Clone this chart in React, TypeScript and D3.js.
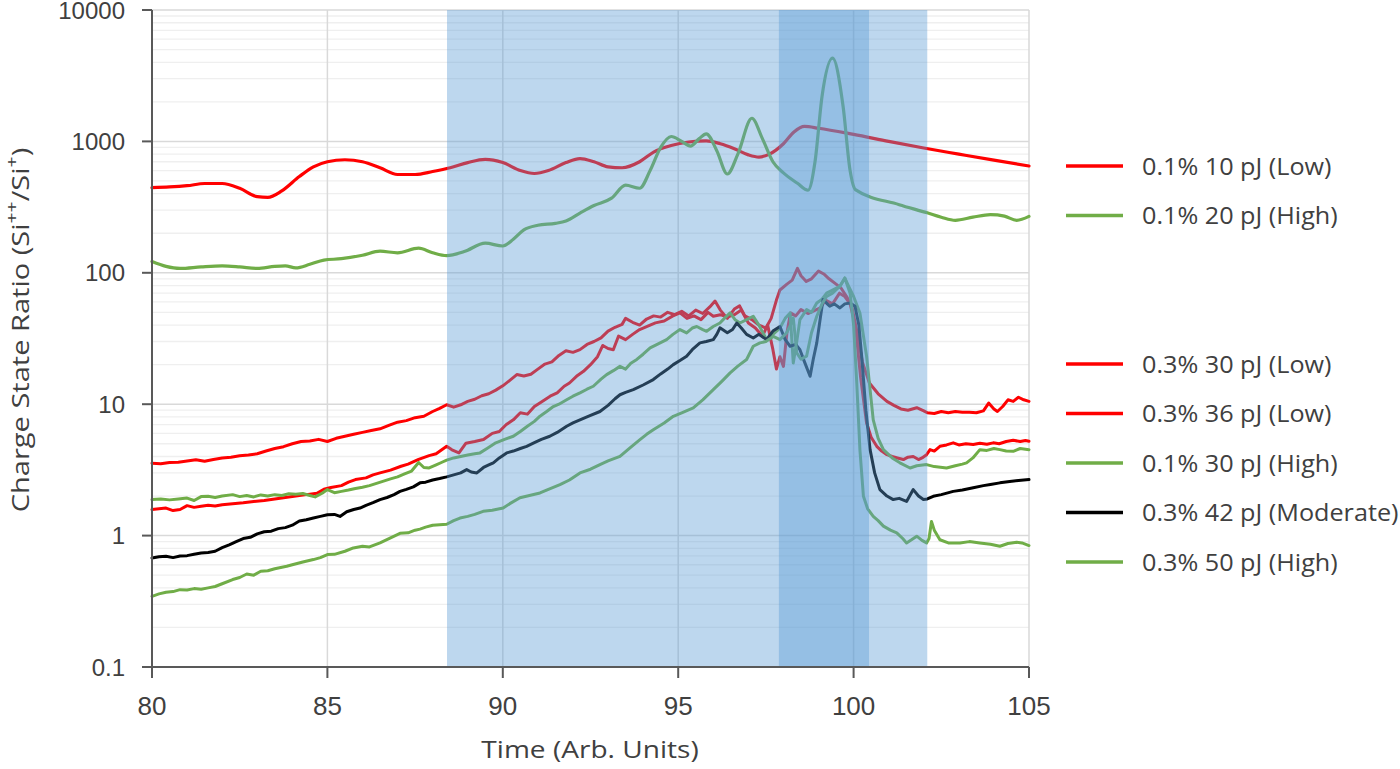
import React from "react";
import * as d3 from "d3";

// ---- data ----
const xTicks = [80, 85, 90, 95, 100, 105];
const yTicks = [0.1, 1, 10, 100, 1000, 10000];
const yTickLabels = ["0.1", "1", "10", "100", "1000", "10000"];

// shaded time windows [start, end]
const shadeBands: [number, number][] = [
  [88.41, 102.1],
  [97.87, 100.44],
];

// 0.1% 10 pJ (Low)
const s10Low: [number, number][] = [
  [80, 445], [80.5, 450], [81, 460], [81.5, 478], [82, 478], [82.5, 440], [83, 380], [83.3, 375],
  [83.7, 420], [84.2, 540], [84.6, 640], [85, 700], [85.5, 725], [86, 700], [86.5, 630], [87, 560],
  [87.5, 560], [88, 590], [88.5, 630], [89, 690], [89.5, 730], [90, 690], [90.5, 600], [90.9, 570],
  [91.3, 600], [91.8, 690], [92.2, 740], [92.6, 700], [93, 640], [93.4, 630], [93.9, 700], [94.3, 830],
  [94.8, 930], [95.3, 990], [95.8, 1010], [96.2, 960], [96.6, 880], [97, 790], [97.3, 760], [97.6, 800],
  [98, 960], [98.3, 1180], [98.6, 1300], [99, 1260], [100, 1130], [101, 1000], [102, 890], [103, 800],
  [104, 720], [105, 650],
];

// 0.1% 20 pJ (High)
const s20High: [number, number][] = [
  [80, 122], [80.4, 112], [80.8, 108], [81.4, 111], [82, 113], [82.5, 111], [83, 108], [83.5, 112],
  [83.8, 113], [84.1, 109], [84.5, 116], [84.9, 125], [85.4, 128], [86, 136], [86.5, 146], [87, 142],
  [87.6, 154], [88, 142], [88.4, 135], [88.9, 145], [89.5, 168], [90, 160], [90.3, 180], [90.6, 212],
  [91, 230], [91.5, 238], [91.8, 248], [92.2, 285], [92.6, 325], [93.1, 370], [93.5, 465], [93.9, 440],
  [94.2, 600], [94.5, 900], [94.8, 1090], [95.1, 1000], [95.35, 920], [95.6, 1050], [95.8, 1140],
  [96.1, 850], [96.4, 565], [96.7, 800], [97.1, 1500], [97.4, 1050], [97.7, 700], [98, 576], [98.4, 480],
  [98.7, 425], [98.9, 700], [99.1, 2200], [99.4, 4300], [99.7, 1850], [99.9, 600], [100.05, 430],
  [101.3, 330], [102.1, 286], [102.5, 265], [102.9, 251], [103.4, 265], [103.9, 277], [104.3, 270],
  [104.65, 251], [105, 269],
];

// 0.3% 30 pJ (Low)
const s30Low: [number, number][] = [
  [80, 3.55], [80.25, 3.52], [80.5, 3.6], [80.75, 3.62], [81, 3.7], [81.25, 3.78], [81.5, 3.68],
  [81.75, 3.8], [82, 3.9], [82.25, 3.95], [82.5, 4.05], [82.75, 4.1], [83, 4.2], [83.25, 4.4],
  [83.5, 4.6], [83.75, 4.75], [84, 5.0], [84.25, 5.2], [84.5, 5.25], [84.75, 5.4], [85, 5.2],
  [85.25, 5.5], [85.5, 5.7], [85.75, 5.9], [86, 6.1], [86.25, 6.3], [86.5, 6.5], [86.75, 6.9],
  [87, 7.3], [87.25, 7.5], [87.5, 7.9], [87.75, 8.1], [88, 8.8], [88.2, 9.3], [88.4, 9.9], [88.6, 9.5],
  [88.8, 9.9], [89, 10.5], [89.2, 10.9], [89.4, 11.6], [89.6, 12.0], [89.8, 12.8], [90, 13.8],
  [90.2, 15.2], [90.4, 16.8], [90.6, 16.4], [90.8, 16.9], [91, 18.5], [91.2, 20.2], [91.4, 21.0],
  [91.6, 23.5], [91.8, 25.5], [92, 24.8], [92.2, 26.0], [92.4, 28.5], [92.6, 30.0], [92.8, 32.0],
  [93, 36.0], [93.2, 38.5], [93.4, 40.5], [93.5, 45.0], [93.7, 42.0], [93.9, 40.0], [94.1, 44.5],
  [94.3, 47.0], [94.5, 46.0], [94.7, 50.0], [94.9, 48.0], [95.1, 51.0], [95.3, 47.0], [95.5, 52.0],
  [95.7, 49.0], [95.9, 55.0], [96.05, 61.0], [96.2, 52.0], [96.4, 45.0], [96.6, 53.0], [96.75, 56.0],
  [96.9, 47.0], [97.1, 44.0], [97.3, 40.0], [97.5, 38.0], [97.65, 45.0], [97.8, 62.0], [97.9, 74.0],
  [98.1, 82.0], [98.25, 88.0], [98.4, 108.0], [98.5, 95.0], [98.65, 86.0], [98.8, 90.0], [99, 103.0],
  [99.15, 98.0], [99.3, 90.0], [99.5, 82.0], [99.65, 76.0], [99.8, 66.0], [99.95, 55.0], [100.1, 35.0],
  [100.25, 21.0], [100.45, 14.5], [100.7, 12.0], [100.95, 10.5], [101.15, 9.8], [101.35, 9.2],
  [101.55, 9.0], [101.8, 9.4], [102, 8.9], [102.1, 8.6], [102.3, 8.5], [102.5, 8.8], [102.7, 8.6],
  [102.9, 8.8], [103.1, 8.7], [103.3, 8.7], [103.5, 8.6], [103.7, 8.9], [103.85, 10.2], [104, 9.2],
  [104.1, 8.8], [104.25, 9.6], [104.4, 10.8], [104.55, 10.5], [104.7, 11.3], [104.85, 10.8], [105, 10.5],
];

// 0.3% 36 pJ (Low)
const s36Low: [number, number][] = [
  [80, 1.58], [80.2, 1.6], [80.4, 1.62], [80.6, 1.55], [80.8, 1.58], [81, 1.69], [81.2, 1.64],
  [81.4, 1.67], [81.6, 1.7], [81.8, 1.68], [82, 1.72], [82.3, 1.75], [82.6, 1.78], [82.9, 1.82],
  [83.2, 1.85], [83.5, 1.9], [83.8, 1.95], [84.1, 2.0], [84.4, 2.05], [84.7, 2.1], [84.9, 2.25],
  [85.1, 2.32], [85.4, 2.4], [85.6, 2.55], [85.8, 2.67], [86.1, 2.75], [86.3, 2.9], [86.5, 3.0],
  [86.8, 3.15], [87.1, 3.37], [87.3, 3.5], [87.6, 3.8], [87.9, 4.06], [88.1, 4.2], [88.4, 4.78],
  [88.55, 4.5], [88.75, 4.26], [88.95, 5.05], [89.2, 5.2], [89.45, 5.38], [89.7, 6.0], [89.9, 6.2],
  [90.1, 7.0], [90.3, 7.6], [90.5, 8.6], [90.7, 8.4], [90.9, 9.6], [91.1, 10.4], [91.35, 11.5],
  [91.55, 12.2], [91.75, 13.7], [91.9, 14.5], [92.1, 16.3], [92.3, 17.8], [92.5, 20.0], [92.7, 23.0],
  [92.85, 28.0], [93, 26.5], [93.15, 26.0], [93.3, 33.0], [93.5, 31.0], [93.7, 34.0], [93.9, 37.0],
  [94.1, 39.0], [94.35, 41.6], [94.6, 43.0], [94.85, 47.0], [95.05, 49.5], [95.25, 45.0], [95.45, 47.0],
  [95.65, 44.0], [95.85, 50.0], [96, 46.7], [96.2, 48.0], [96.4, 46.0], [96.6, 48.0], [96.8, 52.0],
  [97, 41.5], [97.2, 38.0], [97.4, 33.0], [97.55, 40.0], [97.7, 26.0], [97.8, 18.5], [97.9, 23.0],
  [98, 19.4], [98.1, 35.0], [98.2, 49.5], [98.35, 47.0], [98.5, 52.5], [98.7, 49.0], [98.85, 51.0],
  [99.05, 54.0], [99.2, 62.0], [99.4, 58.0], [99.6, 70.0], [99.75, 66.0], [99.9, 58.0], [100.05, 40.0],
  [100.2, 16.0], [100.37, 7.2], [100.5, 5.6], [100.66, 4.78], [100.8, 4.4], [100.95, 4.13], [101.1, 4.0],
  [101.25, 3.9], [101.42, 3.79], [101.55, 3.95], [101.7, 4.0], [101.85, 3.79], [101.95, 3.9],
  [102.08, 4.13], [102.18, 4.51], [102.3, 4.4], [102.46, 4.78], [102.65, 4.9], [102.84, 5.08],
  [103, 4.9], [103.2, 5.0], [103.41, 4.93], [103.6, 5.05], [103.8, 4.95], [103.98, 5.08], [104.15, 5.0],
  [104.35, 5.2], [104.55, 5.31], [104.75, 5.2], [104.9, 5.3], [105, 5.23],
];

// 0.1% 30 pJ (High)
const s30High: [number, number][] = [
  [80, 1.88], [80.25, 1.9], [80.5, 1.87], [80.75, 1.9], [81, 1.93], [81.2, 1.85], [81.4, 1.98],
  [81.6, 1.99], [81.8, 1.95], [82, 2.0], [82.3, 2.05], [82.5, 1.98], [82.7, 2.02], [82.9, 1.97],
  [83.1, 2.04], [83.3, 2.0], [83.5, 2.05], [83.7, 2.02], [83.9, 2.08], [84.1, 2.06], [84.3, 2.09],
  [84.5, 2.02], [84.65, 1.97], [84.85, 2.1], [85, 2.24], [85.2, 2.12], [85.4, 2.17], [85.6, 2.22],
  [85.8, 2.28], [86, 2.33], [86.2, 2.4], [86.4, 2.5], [86.6, 2.6], [86.8, 2.7], [87, 2.8], [87.2, 2.95],
  [87.4, 3.1], [87.6, 3.6], [87.75, 3.3], [87.9, 3.27], [88.1, 3.45], [88.25, 3.6], [88.4, 3.75],
  [88.6, 3.9], [88.8, 4.0], [89, 4.1], [89.2, 4.2], [89.35, 4.26], [89.55, 4.6], [89.8, 5.08],
  [90.05, 5.4], [90.3, 5.7], [90.5, 6.2], [90.7, 6.8], [90.9, 7.4], [91.06, 8.1], [91.25, 8.8],
  [91.44, 9.6], [91.6, 10.0], [91.82, 10.8], [92, 11.5], [92.2, 12.2], [92.4, 13.0], [92.58, 13.7],
  [92.8, 15.5], [92.96, 16.8], [93.15, 18.0], [93.34, 19.4], [93.5, 18.5], [93.65, 20.5], [93.82, 21.9],
  [94, 24.0], [94.2, 26.8], [94.4, 28.5], [94.67, 31.0], [94.85, 34.0], [95.05, 37.0], [95.24, 34.9],
  [95.4, 38.0], [95.53, 39.0], [95.7, 37.0], [95.81, 35.9], [96, 39.0], [96.19, 41.5], [96.35, 46.0],
  [96.48, 49.5], [96.62, 44.0], [96.76, 41.5], [96.95, 44.0], [97.14, 46.7], [97.3, 40.0], [97.52, 31.0],
  [97.7, 34.0], [97.9, 38.0], [98.05, 45.0], [98.19, 49.5], [98.28, 20.6], [98.38, 30.0], [98.47, 44.0],
  [98.66, 52.5], [98.8, 50.0], [98.95, 59.0], [99.1, 63.0], [99.23, 70.0], [99.4, 74.0], [99.61, 79.0],
  [99.75, 91.0], [99.85, 80.0], [100, 66.0], [100.18, 49.5], [100.37, 23.2], [100.56, 7.6], [100.7, 5.5],
  [100.85, 4.51], [101.1, 3.9], [101.32, 3.58], [101.61, 3.27], [101.8, 3.4], [102.08, 3.47],
  [102.3, 3.35], [102.65, 3.27], [102.9, 3.4], [103.1, 3.5], [103.22, 3.58], [103.4, 3.9], [103.6, 4.51],
  [103.8, 4.45], [104, 4.6], [104.17, 4.51], [104.35, 4.4], [104.55, 4.38], [104.75, 4.6], [105, 4.51],
];

// 0.3% 42 pJ (Moderate)
const s42Mod: [number, number][] = [
  [80, 0.676], [80.2, 0.69], [80.4, 0.696], [80.6, 0.68], [80.8, 0.7], [81, 0.704], [81.2, 0.72],
  [81.4, 0.738], [81.6, 0.745], [81.8, 0.76], [82, 0.81], [82.2, 0.85], [82.4, 0.9], [82.6, 0.95],
  [82.8, 0.97], [83, 1.03], [83.2, 1.07], [83.4, 1.08], [83.6, 1.13], [83.8, 1.15], [84, 1.2],
  [84.2, 1.29], [84.4, 1.32], [84.6, 1.36], [84.8, 1.4], [85, 1.44], [85.2, 1.45], [85.36, 1.4],
  [85.55, 1.52], [85.75, 1.58], [85.93, 1.62], [86.1, 1.7], [86.3, 1.78], [86.5, 1.88], [86.7, 1.95],
  [86.9, 2.05], [87.07, 2.17], [87.25, 2.25], [87.45, 2.35], [87.64, 2.52], [87.8, 2.55], [88, 2.65],
  [88.2, 2.72], [88.4, 2.8], [88.6, 2.9], [88.8, 3.0], [88.97, 3.18], [89.1, 3.05], [89.26, 3.0],
  [89.45, 3.3], [89.6, 3.45], [89.73, 3.58], [89.9, 3.9], [90.11, 4.26], [90.3, 4.4], [90.5, 4.6],
  [90.68, 4.78], [90.9, 5.1], [91.1, 5.4], [91.34, 5.7], [91.55, 6.1], [91.82, 6.8], [92, 7.2],
  [92.2, 7.6], [92.45, 8.1], [92.77, 8.8], [93, 9.8], [93.2, 11.0], [93.34, 11.8], [93.5, 12.3],
  [93.72, 12.9], [94, 14.0], [94.29, 15.4], [94.5, 17.0], [94.7, 18.5], [94.86, 20.0], [95.05, 21.5],
  [95.24, 23.2], [95.4, 26.0], [95.62, 29.3], [95.8, 30.0], [96, 31.0], [96.1, 34.0], [96.19, 38.1],
  [96.4, 35.0], [96.55, 37.0], [96.67, 41.5], [96.8, 38.0], [96.95, 34.0], [97.14, 31.9], [97.3, 34.0],
  [97.52, 31.0], [97.7, 36.0], [97.9, 39.0], [98.05, 31.0], [98.19, 27.6], [98.35, 28.5], [98.47, 26.0],
  [98.6, 21.0], [98.76, 16.3], [98.85, 22.0], [98.95, 29.3], [99.05, 45.0], [99.13, 62.6], [99.25, 58.0],
  [99.32, 55.6], [99.45, 58.0], [99.61, 54.0], [99.75, 58.0], [99.9, 59.0], [100.04, 55.6], [100.15, 40.0],
  [100.23, 23.2], [100.35, 9.0], [100.47, 4.51], [100.6, 3.0], [100.75, 2.24], [100.95, 2.0],
  [101.13, 1.88], [101.3, 1.92], [101.51, 1.82], [101.7, 2.24], [101.85, 2.0], [101.99, 1.88],
  [102.1, 1.9], [102.27, 1.99], [102.5, 2.05], [102.84, 2.17], [103.1, 2.22], [103.41, 2.31],
  [103.7, 2.4], [103.9, 2.45], [104.17, 2.52], [104.45, 2.58], [104.7, 2.63], [105, 2.67],
];

// 0.3% 50 pJ (High)
const s50High: [number, number][] = [
  [80, 0.345], [80.2, 0.36], [80.4, 0.37], [80.6, 0.375], [80.8, 0.388], [81, 0.385], [81.2, 0.395],
  [81.4, 0.39], [81.6, 0.4], [81.8, 0.41], [82, 0.43], [82.3, 0.463], [82.5, 0.48], [82.7, 0.51],
  [82.9, 0.5], [83.1, 0.535], [83.3, 0.54], [83.5, 0.56], [83.84, 0.584], [84, 0.6], [84.3, 0.63],
  [84.6, 0.657], [84.8, 0.68], [85, 0.717], [85.2, 0.72], [85.5, 0.76], [85.74, 0.806], [86, 0.83],
  [86.2, 0.82], [86.5, 0.88], [86.8, 0.96], [87.07, 1.04], [87.3, 1.05], [87.5, 1.1], [87.64, 1.12],
  [87.8, 1.16], [88, 1.2], [88.2, 1.21], [88.4, 1.22], [88.6, 1.3], [88.78, 1.36], [89, 1.4],
  [89.2, 1.45], [89.44, 1.53], [89.7, 1.56], [90.01, 1.62], [90.2, 1.75], [90.49, 1.94], [90.7, 2.0],
  [91.06, 2.11], [91.3, 2.25], [91.63, 2.44], [91.9, 2.65], [92.2, 3.0], [92.5, 3.2], [92.77, 3.47],
  [93, 3.7], [93.34, 4.01], [93.6, 4.6], [93.91, 5.38], [94.1, 5.9], [94.29, 6.4], [94.6, 7.2],
  [94.86, 8.09], [95.1, 8.6], [95.43, 9.36], [95.7, 10.8], [96, 12.9], [96.25, 15.0], [96.48, 17.3],
  [96.7, 19.5], [96.95, 21.9], [97.14, 27.6], [97.33, 29.3], [97.5, 30.0], [97.71, 32.8], [97.9, 31.0],
  [98.09, 34.9], [98.2, 40.0], [98.28, 45.4], [98.38, 24.6], [98.5, 22.0], [98.66, 23.2], [98.8, 35.0],
  [98.95, 46.7], [99.1, 58.0], [99.23, 66.0], [99.4, 70.0], [99.61, 79.0], [99.75, 91.4], [99.9, 70.0],
  [100, 40.0], [100.09, 14.5], [100.18, 4.5], [100.28, 1.99], [100.4, 1.6], [100.56, 1.4], [100.7, 1.3],
  [100.85, 1.18], [101.05, 1.1], [101.23, 1.05], [101.4, 0.95], [101.51, 0.88], [101.65, 0.93],
  [101.8, 0.99], [101.95, 0.92], [102.08, 0.88], [102.15, 0.95], [102.22, 1.28], [102.3, 1.1],
  [102.46, 0.93], [102.7, 0.88], [103.03, 0.88], [103.3, 0.9], [103.6, 0.88], [103.9, 0.86],
  [104.17, 0.83], [104.4, 0.87], [104.65, 0.89], [104.8, 0.88], [105, 0.84],
];

const RED = "#FF0000";
const GREEN = "#70AD47";
const BLACK = "#000000";
const TEXT = "#404040";

// legend order, row index leaves a two-row gap between the groups
const series = [
  { name: "0.1% 10 pJ (Low)", color: RED, data: s10Low, smooth: true, row: 0 },
  { name: "0.1% 20 pJ (High)", color: GREEN, data: s20High, smooth: true, row: 1 },
  { name: "0.3% 30 pJ (Low)", color: RED, data: s30Low, smooth: false, row: 4 },
  { name: "0.3% 36 pJ (Low)", color: RED, data: s36Low, smooth: false, row: 5 },
  { name: "0.1% 30 pJ (High)", color: GREEN, data: s30High, smooth: false, row: 6 },
  { name: "0.3% 42 pJ (Moderate)", color: BLACK, data: s42Mod, smooth: false, row: 7 },
  { name: "0.3% 50 pJ (High)", color: GREEN, data: s50High, smooth: false, row: 8 },
];

const W = 1400;
const H = 769;
const plot = { left: 152, right: 1029, top: 10, bottom: 667 };

export default function App() {
  const x = d3.scaleLinear().domain([80, 105]).range([plot.left, plot.right]);
  const y = d3.scaleLog().domain([0.1, 10000]).range([plot.bottom, plot.top]);

  const smoothLine = d3
    .line<[number, number]>()
    .x((d) => x(d[0]))
    .y((d) => y(d[1]))
    .curve(d3.curveMonotoneX);
  const rawLine = d3
    .line<[number, number]>()
    .x((d) => x(d[0]))
    .y((d) => y(d[1]));

  // minor log gridlines 2..9 in each decade
  const minorTicks: number[] = [];
  yTicks.slice(0, -1).forEach((dec) => {
    for (let k = 2; k <= 9; k++) minorTicks.push(dec * k);
  });

  const tickFont = "'Liberation Sans', Arial, sans-serif";
  const labelFont = "'Open Sans', 'Noto Sans', sans-serif";

  const legendX = 1066;
  const legendY0 = 166;
  const legendStep = 49.5;

  return (
    <svg
      width={W}
      height={H}
      style={{ position: "absolute", left: 0, top: 0, background: "#fff" }}
    >
      {/* gridlines */}
      <g>
        {minorTicks.map((v) => (
          <line key={"m" + v} x1={plot.left} x2={plot.right} y1={y(v)} y2={y(v)} stroke="#EFEFEF" strokeWidth={1.3} />
        ))}
        {yTicks.map((v) => (
          <line key={"M" + v} x1={plot.left} x2={plot.right} y1={y(v)} y2={y(v)} stroke="#D9D9D9" strokeWidth={1.5} />
        ))}
        {xTicks.slice(1).map((t) => (
          <line key={"v" + t} x1={x(t)} x2={x(t)} y1={plot.top} y2={plot.bottom} stroke="#D9D9D9" strokeWidth={1.5} />
        ))}
      </g>

      {/* series */}
      <g fill="none" strokeLinejoin="round" strokeLinecap="round">
        {series.map((s) => (
          <path
            key={s.name}
            d={(s.smooth ? smoothLine : rawLine)(s.data) || ""}
            stroke={s.color}
            strokeWidth={s.smooth ? 3.2 : 3}
          />
        ))}
      </g>

      {/* translucent time windows over the lines */}
      <g>
        {shadeBands.map(([a, b], i) => (
          <rect
            key={i}
            x={x(a)}
            width={x(b) - x(a)}
            y={plot.top}
            height={plot.bottom - plot.top}
            fill="#5B9BD5"
            fillOpacity={0.4}
          />
        ))}
      </g>

      {/* axes */}
      <g stroke="#595959" strokeWidth={2}>
        <line x1={plot.left} x2={plot.left} y1={plot.top} y2={plot.bottom} />
        <line x1={plot.left - 10} x2={plot.right} y1={plot.bottom} y2={plot.bottom} />
        {yTicks.map((v) => (
          <line key={v} x1={plot.left - 10} x2={plot.left} y1={y(v)} y2={y(v)} />
        ))}
        {xTicks.map((t) => (
          <line key={t} x1={x(t)} x2={x(t)} y1={plot.bottom} y2={plot.bottom + 11} />
        ))}
      </g>

      {/* tick labels */}
      <g fill={TEXT} fontFamily={tickFont}>
        {yTicks.map((v, i) => (
          <text key={v} x={plot.left - 27} y={y(v) + 8.5} fontSize={24} textAnchor="end">
            {yTickLabels[i]}
          </text>
        ))}
        {xTicks.map((t) => (
          <text key={t} x={x(t)} y={plot.bottom + 48} fontSize={26} textAnchor="middle">
            {t}
          </text>
        ))}
      </g>

      {/* axis titles */}
      <g fill={TEXT} fontFamily={labelFont} fontSize={24}>
        <text transform="translate(590,758) scale(1.17,1)" textAnchor="middle">
          Time (Arb. Units)
        </text>
        <text transform="translate(29,330) rotate(-90) scale(1.21,1)" textAnchor="middle">
          Charge State Ratio (Si
          <tspan baselineShift="super" fontSize={16}>++</tspan>
          /Si
          <tspan baselineShift="super" fontSize={16}>+</tspan>)
        </text>
      </g>

      {/* legend */}
      <g fontFamily={labelFont} fontSize={24} fill={TEXT}>
        {series.map((s) => {
          const ly = legendY0 + s.row * legendStep;
          return (
            <g key={s.name}>
              <line x1={legendX} x2={legendX + 57} y1={ly} y2={ly} stroke={s.color} strokeWidth={3.5} />
              <text transform={`translate(${legendX + 76},${ly + 8.5}) scale(1.05,1)`}>
                {s.name}
              </text>
            </g>
          );
        })}
      </g>
    </svg>
  );
}
